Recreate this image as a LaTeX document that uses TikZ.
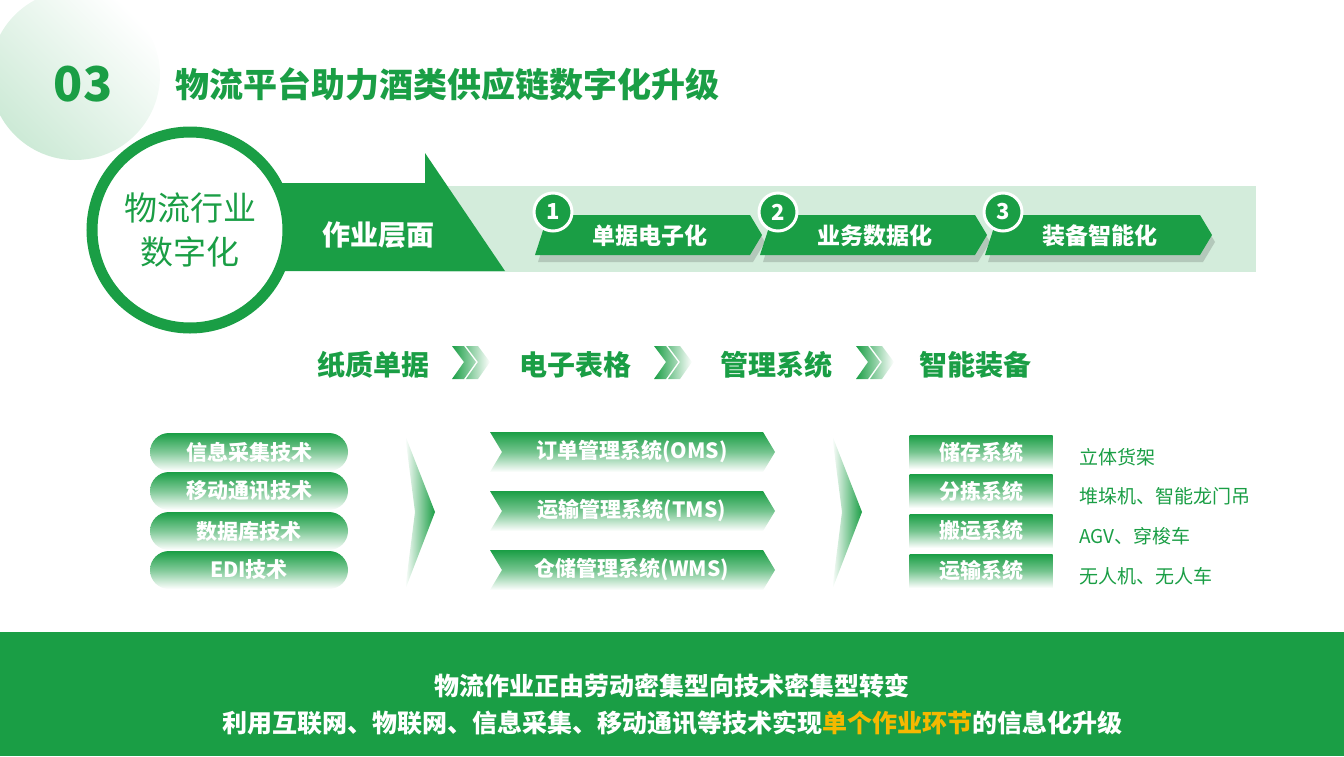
\documentclass[tikz,border=0pt]{standalone}
\usepackage{fontspec}
\setmainfont{Noto Sans CJK SC}
\usetikzlibrary{positioning}
\definecolor{mygreen}{HTML}{1A9E45}
\definecolor{mylight}{HTML}{D3ECDB}
\definecolor{myyellow}{HTML}{F5B800}

\begin{document}
\begin{tikzpicture}[x=1pt, y=-1pt,
  gtext/.style={text=mygreen, font=\bfseries\fontsize{28}{32}\selectfont},
  wtext/.style={text=white, font=\bfseries\fontsize{21}{24}\selectfont},
  pill/.style={rounded corners=19pt, minimum width=198pt, minimum height=38pt, top color=mygreen, bottom color=white, middle color=mygreen!55, inner sep=0pt},
  sysbox/.style={minimum width=143pt, minimum height=34pt, top color=mygreen, bottom color=white, middle color=mygreen!60, inner sep=0pt},
  itemtext/.style={anchor=west, text=mygreen, font=\fontsize{19}{22}\selectfont}]
  \useasboundingbox (0,0) rectangle (1344,756);

  % corner decoration and title
  \shade[left color=mygreen!22, right color=white, shading angle=135] (75,75) circle (85);
  \node[text=mygreen, font=\bfseries\fontsize{48}{52}\selectfont] (num) at (83,84) {03};
  \node[anchor=west, text=mygreen, font=\bfseries\fontsize{34}{38}\selectfont] (title) at (172,84) {物流平台助力酒类供应链数字化升级};

  % band and big arrow
  \fill[mylight] (430,186) rectangle (1256,272);
  \fill[mygreen] (190,183) -- (425,183) -- (425,153) -- (505,271) -- (190,271) -- cycle;
  \node[circle, draw=mygreen, line width=11pt, fill=white, minimum size=196pt, align=center,
        text=mygreen, font=\fontsize{33}{44}\selectfont] (industry) at (190,230) {物流行业\\数字化};
  \node[text=white, font=\bfseries\fontsize{28}{30}\selectfont] (layer) at (378,235) {作业层面};

  % numbered steps
  \foreach \x/\n/\t in {535/1/单据电子化, 760/2/业务数据化, 985/3/装备智能化}{
    \fill[black, opacity=0.15] (\x+3,262) -- (\x+16,222) -- (\x+218,222) -- (\x+230,242) -- (\x+218,262) -- cycle;
    \fill[mygreen] (\x,255) -- (\x+13,215) -- (\x+215,215) -- (\x+227,235) -- (\x+215,255) -- cycle;
    \node[circle, fill=mygreen, draw=white, line width=3pt, minimum size=38pt, inner sep=0pt,
          text=white, font=\bfseries\fontsize{22}{24}\selectfont] (step\n) at (\x+18,212) {\n};
    \node[text=white, font=\bfseries\fontsize{23}{26}\selectfont] (stepl\n) at (\x+115,236) {\t};
  }

  % stage row
  \foreach \x/\n/\t in {373/1/纸质单据, 575/2/电子表格, 776/3/管理系统, 975/4/智能装备}{
    \node[gtext] (stage\n) at (\x,365) {\t};
  }
  \foreach \x in {452,654,856}{
    \shade[left color=mygreen, right color=white]
      (\x,346) -- (\x+12,346) -- (\x+24,362) -- (\x+12,379) -- (\x,379) -- (\x+12,362) -- cycle
      (\x+14,346) -- (\x+26,346) -- (\x+38,362) -- (\x+26,379) -- (\x+14,379) -- (\x+26,362) -- cycle;
  }

  % technologies
  \foreach \y/\n/\t in {452/1/信息采集技术, 491/2/移动通讯技术, 531/3/数据库技术, 570/4/EDI技术}{
    \node[pill, wtext] (tech\n) at (249,\y) {\t};
  }
  \shade[left color=white, right color=mygreen] (405,435) -- (435,512) -- (405,590) -- (415,512) -- cycle;

  % systems
  \foreach \y/\n/\t in {452/1/订单管理系统(OMS), 511/2/运输管理系统(TMS), 570/3/仓储管理系统(WMS)}{
    \shade[top color=mygreen, bottom color=white, middle color=mygreen!60]
      (490,\y-20) -- (763,\y-20) -- (775,\y) -- (763,\y+20) -- (490,\y+20) -- (502,\y) -- cycle;
    \node[wtext] (sys\n) at (632,\y) {\t};
  }
  \shade[left color=white, right color=mygreen] (832,435) -- (862,512) -- (832,590) -- (842,512) -- cycle;

  % equipment
  \foreach \y/\n/\t/\e in {452/1/储存系统/立体货架, 491/2/分拣系统/{堆垛机、智能龙门吊}, 531/3/搬运系统/{AGV、穿梭车}, 571/4/运输系统/{无人机、无人车}}{
    \node[sysbox, wtext] (equip\n) at (981,\y) {\t};
    \node[itemtext] (item\n) at (1076,\y+5) {\e};
  }

  % bottom band
  \fill[mygreen] (0,632) rectangle (1344,756);
  \node[text=white, font=\bfseries\fontsize{25}{28}\selectfont] (sum1) at (672,686) {物流作业正由劳动密集型向技术密集型转变};
  \node[text=white, font=\bfseries\fontsize{25}{28}\selectfont] (sum2) at (672,723) {利用互联网、物联网、信息采集、移动通讯等技术实现\textcolor{myyellow}{单个作业环节}的信息化升级};
\end{tikzpicture}
\end{document}
